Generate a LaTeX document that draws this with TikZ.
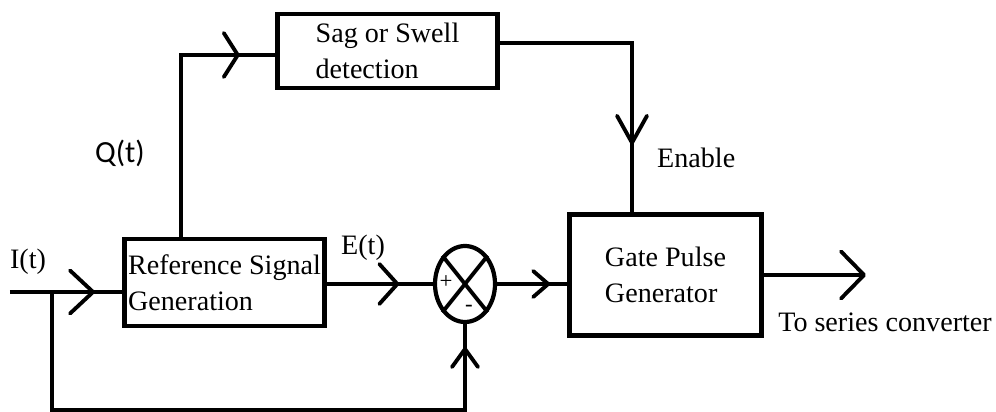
\documentclass[tikz,border=0pt]{standalone}
\usepackage{fontspec}
\setmainfont{Liberation Serif}
\setsansfont{Carlito}
\usepackage{tikz}
\usetikzlibrary{arrows.meta,positioning,shapes.geometric,calc,decorations.markings}
\tikzset{
  every picture/.append style={font=\fontsize{16}{20.5}\selectfont},
  blockbox/.style={rectangle,draw=black,line width=2.6pt,fill=white,align=left,inner sep=2pt},
  sumjunc/.style={ellipse,draw=black,line width=2.4pt,minimum width=1.2cm,minimum height=1.52cm,inner sep=0pt},
  wire/.style={draw=black,line width=2.2pt},
  barb/.style n args={3}{postaction={decorate},
    decoration={markings,mark=at position #1 with {\arrow{Straight Barb[length=#2,width=#3,round]}}}},
  signlabel/.style={font=\fontsize{13}{13}\selectfont,inner sep=0pt},
}

\begin{document}
\begin{tikzpicture}[x=1cm,y=1cm]
  \useasboundingbox (0,0) rectangle (19.92,8.24);

  \node[blockbox, minimum width=4.0cm, minimum height=1.74cm] (ref) at (4.49,2.59) {Reference Signal\\Generation};
  \node[blockbox, minimum width=4.4cm, minimum height=1.48cm] (sag) at (7.75,7.22) {Sag or Swell\\detection};
  \node[blockbox, minimum width=3.84cm, minimum height=2.42cm] (gate) at (13.31,2.74) {Gate Pulse\\Generator};
  \node[sumjunc] (sum) at (9.30,2.56) {};
  \draw[wire] (sum.north west) -- (sum.south east);
  \draw[wire] (sum.south west) -- (sum.north east);
  \node[signlabel] (plus) at ($(sum.center)+(-0.38,0.04)$) {+};
  \node[signlabel] (minus) at ($(sum.center)+(0.08,-0.48)$) {-};

  \coordinate (in)  at (0.2,2.4);
  \coordinate (fb)  at (1.04,2.4);
  \coordinate (fbb) at (1.04,0.04);
  \coordinate (out) at (17.32,2.74);

  \draw[wire, barb={1.7cm}{0.46cm}{0.86cm}] (in) -- (in -| ref.west);
  \draw[wire, barb={-0.46cm}{0.36cm}{0.52cm}] (fb) -- (fbb) -| (sum.south);
  \draw[wire, barb={1.45cm}{0.36cm}{0.8cm}] (ref.east |- sum.west) -- (sum.west);
  \draw[wire, barb={1.06cm}{0.3cm}{0.52cm}] (sum.east) -- (sum.east -| gate.west);
  \draw[wire, barb={-0.71cm}{0.28cm}{0.88cm}] ([xshift=-0.87cm]ref.north) |- ([yshift=-0.08cm]sag.west);
  \draw[wire, barb={-1.35cm}{0.54cm}{0.6cm}] ([yshift=0.16cm]sag.east) -| ([xshift=-0.67cm]gate.north);
  \draw[wire, -{Straight Barb[length=0.46cm,width=0.94cm,round]}] (gate.east) -- (out);

  \node (lblI) at (0.56,3.0) {I(t)};
  \node[font=\sffamily\fontsize{17.5}{21}\selectfont] (lblQ) at (2.4,5.18) {Q(t)};
  \node (lblE) at (7.26,3.28) {E(t)};
  \node[anchor=west] (lblEn) at (13.02,5.08) {Enable};
  \node (lblOut) at (17.7,1.8) {To series converter};
\end{tikzpicture}
\end{document}
